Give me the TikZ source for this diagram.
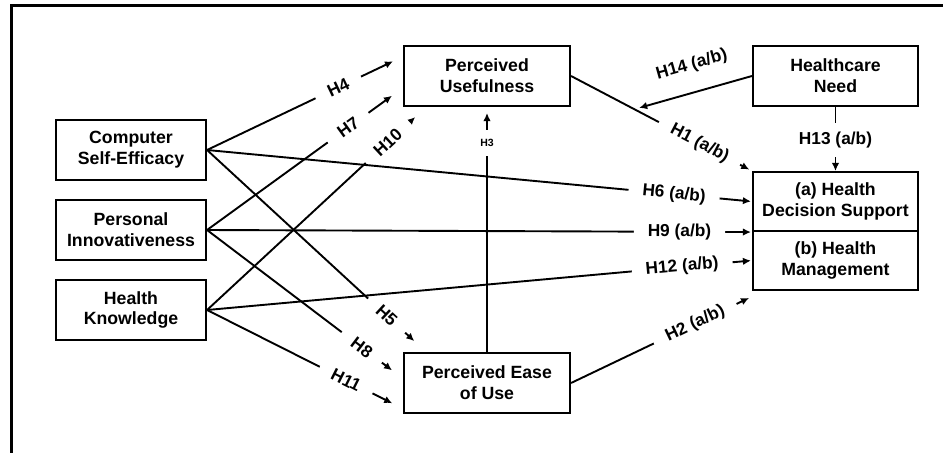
\documentclass[tikz,border=0pt]{standalone}
\usepackage{fontspec}
\setmainfont{Liberation Sans}
\usetikzlibrary{arrows.meta,calc}

\tikzset{
  construct/.style={draw, line width=2.1pt, align=center, inner sep=0pt,
    font=\fontsize{17.7}{20.7}\selectfont\bfseries},
  hyp/.style={fill=white, sloped, inner xsep=14pt, inner ysep=1pt,
    font=\fontsize{17.3}{20}\selectfont\bfseries},
  hypflat/.style={fill=white, inner xsep=2pt, inner ysep=9pt,
    font=\fontsize{17.3}{20}\selectfont\bfseries},
}

\begin{document}
\begin{tikzpicture}[x=1pt, y=-1pt]
	\useasboundingbox (0,0) rectangle (943,453);
	\draw[line width=2.8pt] (943,5.3) -- (11.3,5.3) -- (11.3,453);

	\begin{scope}[every node/.style={construct, minimum height=60pt}]
		\node[minimum width=150pt] (cse) at (131,150) {Computer\\Self-Efficacy};
		\node[minimum width=150pt] (pi) at (131,230) {Personal\\Innovativeness};
		\node[minimum width=150pt] (hk) at (131,310) {Health\\Knowledge};
		\node[minimum width=166pt] (pu) at (487,76) {Perceived\\Usefulness};
		\node[minimum width=166pt] (peou) at (487,383) {Perceived Ease\\of Use};
		\node[minimum width=165pt] (hn) at (835.5,76) {Healthcare\\Need};
		\node[minimum width=165pt, minimum height=59pt] (ds) at (835.5,201.5) {(a) Health\\Decision Support};
		\node[minimum width=165pt, minimum height=59pt] (hm) at (835.5,260.5) {(b) Health\\Management};
	\end{scope}

	\coordinate (h1mid) at ($(pu.east)!.35!(ds.north west)$);

	\begin{scope}[every edge/.append style={-{Latex[length=8pt, width=7.5pt]}, line width=1.9pt}]
		\path (cse.east) edge[shorten >=11pt] node[hyp, pos=.67] {H4} (pu.167);
		\path (pi.east) edge[shorten >=13.6pt] node[hyp, pos=.72] {H7} (pu.188);
		\path (hk.east) edge[shorten >=14.8pt] node[hyp, pos=.825] {H10} (pu.207);
		\path (cse.east) edge[shorten >=16pt] node[hyp, pos=.82] {H5} (peou.153);
		\path (pi.east) edge[shorten >=13.7pt] node[hyp, pos=.79] {H8} (peou.177);
		\path (hk.east) edge[shorten >=12pt] node[hyp, pos=.71] {H11} (peou.197);
		\path (cse.east) edge[shorten >=1pt] node[hyp, pos=.857] {H6 (a/b)} (ds.west);
		\path (pi.east) edge[shorten >=1pt] node[hyp, pos=.867] {H9 (a/b)} (ds.south west);
		\path (hk.east) edge[shorten >=1pt] node[hyp, pos=.872] {H12 (a/b)} (hm.west);
		\path (pu.east) edge[shorten >=3pt] node[hyp, pos=.71] {H1 (a/b)} (ds.north west);
		\path (peou.east) edge[shorten >=16pt] node[hyp, pos=.645] {H2 (a/b)} (hm.203);
		\path (peou.north) edge[shorten >=6pt] node[hypflat, pos=.854, font=\fontsize{10.5}{12}\selectfont\bfseries] {H3} (pu.south);
		\path (hn.south) edge node[hypflat, pos=.52] {H13 (a/b)} (ds.north);
		\path (hn.west) edge[shorten >=5pt] node[hyp, fill=none, above=17pt, pos=.45] {H14 (a/b)} (h1mid);
	\end{scope}
\end{tikzpicture}
\end{document}
